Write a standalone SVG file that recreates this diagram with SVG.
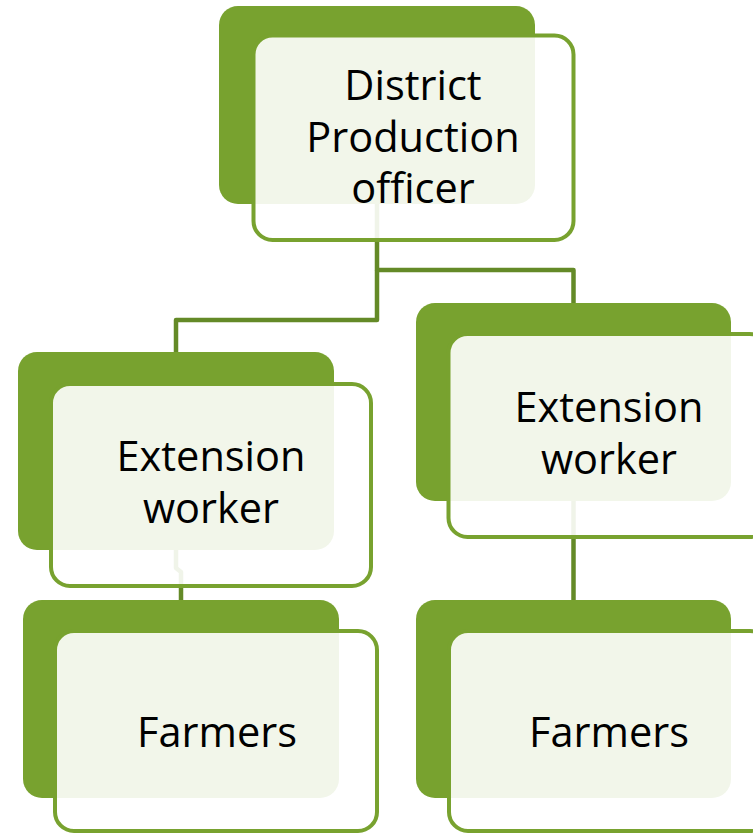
<svg xmlns="http://www.w3.org/2000/svg" width="753" height="834" viewBox="0 0 753 834">
<style>
.back{fill:#78a22f}
.front{fill:#ffffff;fill-opacity:0.9;stroke:#78a22f;stroke-width:4}
.conn{fill:none;stroke:#648a27;stroke-width:4.5;stroke-linejoin:round}
.lbl{font-family:"Open Sans","Noto Sans",sans-serif;font-size:41.5px;fill:#000;text-anchor:middle}
</style>
<rect width="753" height="834" fill="#ffffff"/>
<g id="connectors">
<path class="conn" d="M377,204 V270 H573.5 V303"/>
<path class="conn" d="M377,270 V320 H176 V352"/>
<path class="conn" d="M176,550 V568 L181,572 V600"/>
<path class="conn" d="M573.5,501 V600"/>
</g>
<g id="district">
<rect class="back" x="219" y="6" width="316" height="198" rx="19"/>
<rect class="front" x="253.5" y="35.5" width="320" height="204.5" rx="19"/>
<text class="lbl" x="413" y="100">District</text>
<text class="lbl" x="413" y="152">Production</text>
<text class="lbl" x="413" y="203">officer</text>
</g>
<g id="ext-left">
<rect class="back" x="18" y="352" width="316" height="198" rx="19"/>
<rect class="front" x="51" y="384" width="320" height="202" rx="19"/>
<text class="lbl" x="211" y="471">Extension</text>
<text class="lbl" x="211" y="523">worker</text>
</g>
<g id="ext-right">
<rect class="back" x="416" y="303" width="315" height="198" rx="19"/>
<rect class="front" x="448.5" y="334" width="320" height="203" rx="19"/>
<text class="lbl" x="609" y="422">Extension</text>
<text class="lbl" x="609" y="474">worker</text>
</g>
<g id="farmers-left">
<rect class="back" x="23" y="600" width="316" height="198" rx="19"/>
<rect class="front" x="55" y="631" width="322" height="200" rx="19"/>
<text class="lbl" x="217" y="747">Farmers</text>
</g>
<g id="farmers-right">
<rect class="back" x="416" y="600" width="315" height="198" rx="19"/>
<rect class="front" x="449" y="631" width="320" height="200" rx="19"/>
<text class="lbl" x="609" y="747">Farmers</text>
</g>
</svg>
